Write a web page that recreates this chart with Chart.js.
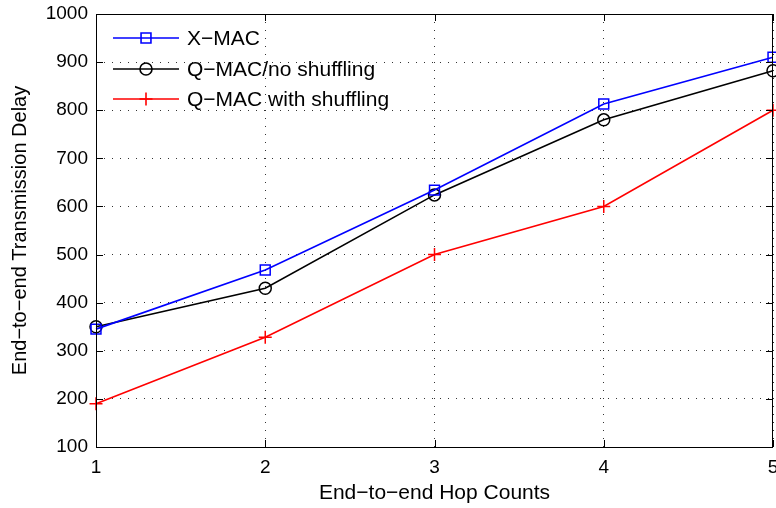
<!DOCTYPE html>
<html>
<head>
<meta charset="utf-8">
<script src="https://cdn.jsdelivr.net/npm/chart.js@4.4.1/dist/chart.umd.min.js"></script>
<style>
  html, body { margin: 0; padding: 0; background: #fff; }
  #wrap { width: 776px; height: 508px; }
</style>
</head>
<body>
<div id="wrap"><canvas id="myChart" width="776" height="508"></canvas></div>
<script>
// values
const hopCounts = [1, 2, 3, 4, 5];
const xmacDelay = [345, 468, 634, 813, 910];
const qmacNoShuffleDelay = [350, 430, 624, 780, 882];
const qmacShuffleDelay = [190, 328, 500, 600, 800];
const yTickValues = [100, 200, 300, 400, 500, 600, 700, 800, 900, 1000];
const seriesNames = ['X\u2212MAC', 'Q\u2212MAC/no shuffling', 'Q\u2212MAC with shuffling'];

const FONT = '"Liberation Sans", Arial, Helvetica, sans-serif';

function toPoints(ys) {
    return hopCounts.map((x, i) => ({ x: x, y: ys[i] }));
}

// frame, inward ticks and the legend (MATLAB look)
const matlabBox = {
    id: 'matlabBox',
    afterDraw(chart) {
        const ctx = chart.ctx;
        const a = chart.chartArea;
        const xs = chart.scales.x, ys = chart.scales.y;
        ctx.save();
        ctx.setLineDash([]);
        ctx.strokeStyle = '#000';
        ctx.lineWidth = 1;
        ctx.strokeRect(Math.round(a.left) + 0.5, Math.round(a.top) + 0.5,
            Math.round(a.right - a.left) - 1, Math.round(a.bottom - a.top));
        const len = 7;
        ctx.beginPath();
        hopCounts.forEach(v => {
            const px = Math.round(xs.getPixelForValue(v)) + 0.5;
            ctx.moveTo(px, a.bottom); ctx.lineTo(px, a.bottom - len);
            ctx.moveTo(px, a.top); ctx.lineTo(px, a.top + len);
        });
        yTickValues.forEach(v => {
            const py = Math.round(ys.getPixelForValue(v)) + 0.5;
            ctx.moveTo(a.left, py); ctx.lineTo(a.left + len, py);
            ctx.moveTo(a.right, py); ctx.lineTo(a.right - len, py);
        });
        ctx.stroke();

        // legend
        const rowY = [38, 69, 99];
        chart.data.datasets.forEach((ds, i) => {
            const y = rowY[i];
            ctx.strokeStyle = ds.borderColor;
            ctx.lineWidth = ds.borderWidth;
            ctx.beginPath();
            ctx.moveTo(113, y);
            ctx.lineTo(179, y);
            ctx.stroke();
            ctx.fillStyle = 'rgba(0,0,0,0)';
            Chart.helpers.drawPoint(ctx, {
                pointStyle: ds.pointStyle,
                radius: ds.pointRadius,
                rotation: 0,
                borderWidth: ds.pointBorderWidth
            }, 146, y);
            ctx.fillStyle = '#000';
            ctx.font = '21px ' + FONT;
            ctx.textAlign = 'left';
            ctx.textBaseline = 'middle';
            ctx.fillText(ds.label, 187, y + 1);
        });
        ctx.restore();
    }
};

const ctx = document.getElementById('myChart').getContext('2d');
const myChart = new Chart(ctx, {
    type: 'line',
    data: {
        datasets: [{
            label: seriesNames[0],
            data: toPoints(xmacDelay),
            borderColor: '#0000ff',
            backgroundColor: 'rgba(0,0,0,0)',
            borderWidth: 1.6,
            pointStyle: 'rect',
            pointRadius: 7,
            pointBorderWidth: 1.5
        }, {
            label: seriesNames[1],
            data: toPoints(qmacNoShuffleDelay),
            borderColor: '#000000',
            backgroundColor: 'rgba(0,0,0,0)',
            borderWidth: 1.6,
            pointStyle: 'circle',
            pointRadius: 6,
            pointBorderWidth: 1.5
        }, {
            label: seriesNames[2],
            data: toPoints(qmacShuffleDelay),
            borderColor: '#ff0000',
            backgroundColor: 'rgba(0,0,0,0)',
            borderWidth: 1.6,
            pointStyle: 'cross',
            pointRadius: 6.5,
            pointBorderWidth: 1.5
        }]
    },
    options: {
        responsive: false,
        animation: false,
        clip: false,
        layout: { autoPadding: false, padding: { left: 0, top: 14, right: 3, bottom: 0 } },
        plugins: {
            legend: { display: false },
            tooltip: { enabled: false }
        },
        scales: {
            x: {
                type: 'linear',
                min: 1,
                max: 5,
                afterBuildTicks: (s) => { s.ticks = hopCounts.map(v => ({ value: v })); },
                afterFit: (s) => { s.height = 61; s.paddingLeft = 0; s.paddingRight = 0; },
                grid: { color: 'rgba(0,0,0,0.8)', lineWidth: 1, drawTicks: false },
                border: { display: false, dash: [1, 7] },
                ticks: {
                    color: '#000', padding: 9, maxRotation: 0,
                    font: { family: FONT, size: 19 },
                    callback: (v) => String(v)
                },
                title: {
                    display: true,
                    text: 'End\u2212to\u2212end Hop Counts',
                    color: '#000',
                    font: { family: FONT, size: 21 },
                    padding: { top: 0, bottom: 2 }
                }
            },
            y: {
                min: 100,
                max: 1000,
                afterBuildTicks: (s) => { s.ticks = yTickValues.map(v => ({ value: v })); },
                afterFit: (s) => { s.width = 96; s.paddingTop = 0; s.paddingBottom = 0; },
                grid: { color: 'rgba(0,0,0,0.8)', lineWidth: 1, drawTicks: false },
                border: { display: false, dash: [1, 7] },
                ticks: {
                    color: '#000', padding: 8,
                    font: { family: FONT, size: 19 },
                    callback: (v) => String(v)
                },
                title: {
                    display: true,
                    text: 'End\u2212to\u2212end Transmission Delay',
                    color: '#000',
                    font: { family: FONT, size: 20 },
                    padding: { top: 8, bottom: 0 }
                }
            }
        }
    },
    plugins: [matlabBox]
});
</script>
</body>
</html>
